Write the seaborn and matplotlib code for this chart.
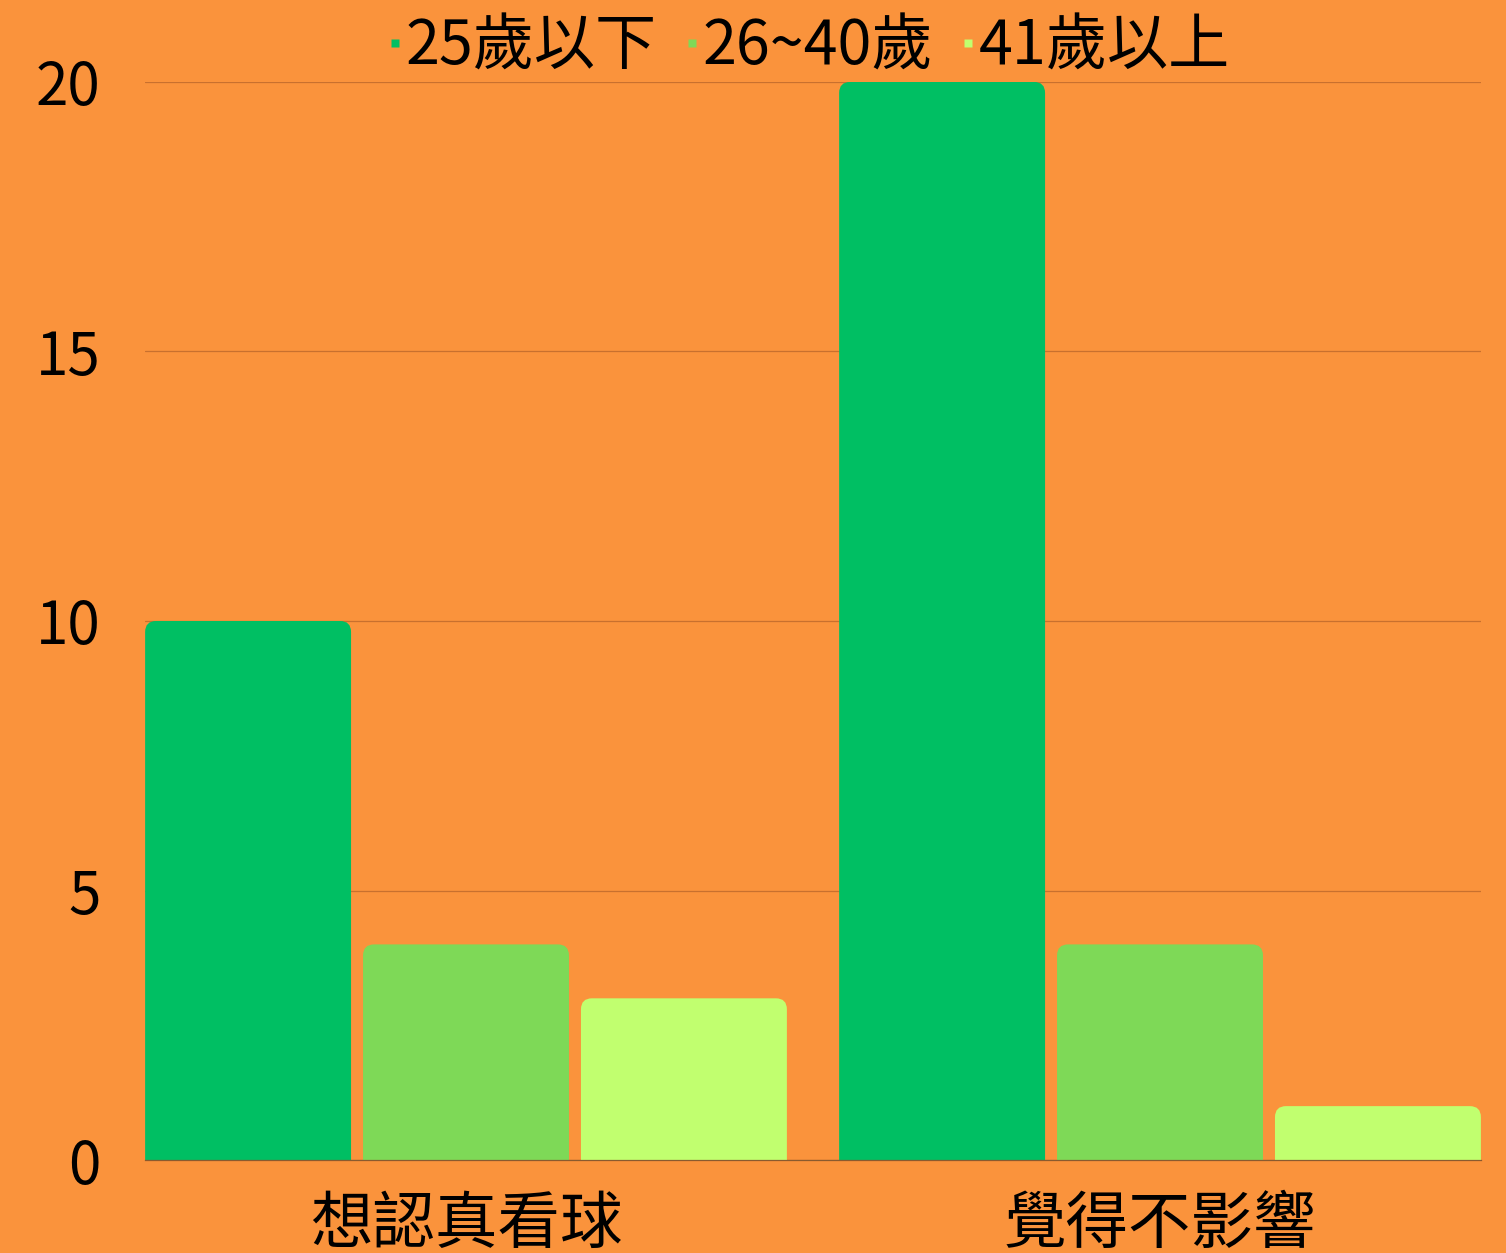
import matplotlib
matplotlib.use('Agg')
import matplotlib.pyplot as plt
from matplotlib.patches import FancyBboxPatch
from matplotlib.lines import Line2D
import pandas as pd
import seaborn as sns

categories = ['想認真看球', '覺得不影響']
age_groups = ['25歲以下', '26~40歲', '41歲以上']
values = {
    '25歲以下': [10, 20],
    '26~40歲': [4, 4],
    '41歲以上': [3, 1],
}
colors = ['#00BF63', '#7ED957', '#C1FF6F']
yticks = [0, 5, 10, 15, 20]

bg = '#FA933C'
grid_color = '#C8702E'

rows = []
for g in age_groups:
    for c, v in zip(categories, values[g]):
        rows.append({'cat': c, 'age': g, 'val': v})
df = pd.DataFrame(rows)

sns.set_style('white')
plt.rcParams['font.family'] = ['Noto Sans CJK TC', 'DejaVu Sans']
plt.rcParams['text.color'] = 'black'

fig = plt.figure(figsize=(15.06, 12.53), dpi=100, facecolor=bg)
ax = fig.add_axes([0.0963, 0.0742, 0.8871, 0.8604])
ax.set_facecolor(bg)

sns.barplot(data=df, x='cat', y='val', hue='age', hue_order=age_groups,
            palette=colors, saturation=1, width=0.942, gap=0.055,
            legend=False, ax=ax)

# rounded top corners: swap each bar for a rounded box (bottom clipped by axes)
px_per_x = 694.0
px_per_y = 1078.0 / 20
radius_px = 11
r = radius_px / px_per_x
asp = px_per_x / px_per_y
for p in list(ax.patches):
    x, y = p.get_x(), p.get_y()
    w, h = p.get_width(), p.get_height()
    fb = FancyBboxPatch((x, y - 1), w, h + 1,
                        boxstyle=f'round,pad=0,rounding_size={r}',
                        mutation_aspect=asp, fc=p.get_facecolor(),
                        ec='none', zorder=2)
    ax.add_patch(fb)
    p.remove()

ax.set_xlim(-0.4625, 1.4625)
ax.set_ylim(0, 20)
ax.set_yticks(yticks)
ax.set_axisbelow(True)
ax.yaxis.grid(True, color=grid_color, linewidth=0.9)
ax.xaxis.grid(False)
for s in ['top', 'right', 'left']:
    ax.spines[s].set_visible(False)
ax.spines['bottom'].set_color('#8A5A2E')
ax.spines['bottom'].set_linewidth(0.9)
ax.tick_params(axis='y', length=0, pad=32, labelsize=42, colors='black')
ax.tick_params(axis='x', length=0, pad=24, labelsize=45, colors='black')
ax.set_xlabel('')
ax.set_ylabel('')

handles = [Line2D([], [], marker='s', linestyle='', markersize=6,
                  markerfacecolor=c, markeredgecolor='none') for c in colors]
fig.legend(handles, age_groups, loc='center', bbox_to_anchor=(0.538, 0.962),
           ncol=3, frameon=False, fontsize=44, handlelength=0.15,
           handletextpad=0.1, columnspacing=0.5, labelcolor='black')

fig.savefig('out.png', dpi=100, facecolor=bg)
